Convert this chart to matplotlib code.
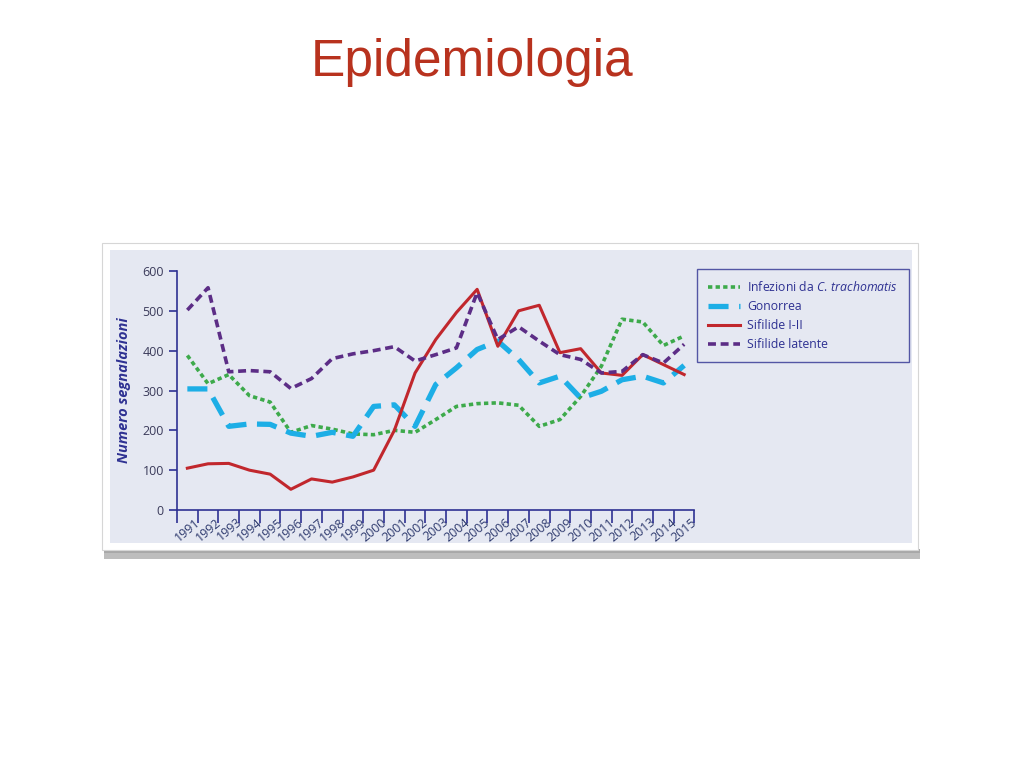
import matplotlib
matplotlib.use("Agg")
import matplotlib.pyplot as plt
from matplotlib.patches import Rectangle
from matplotlib.transforms import ScaledTranslation

plt.rcParams["font.family"] = ["Open Sans", "DejaVu Sans"]
plt.rcParams["mathtext.fontset"] = "custom"
plt.rcParams["mathtext.rm"] = "Open Sans"
plt.rcParams["mathtext.it"] = "Open Sans:italic"

YEARS = list(range(1991, 2016))

CHLAMYDIA = [388, 317, 340, 287, 271, 195, 212, 203, 191, 189, 200, 195, 227,
             260, 267, 269, 263, 210, 227, 285, 361, 479, 472, 413, 437]
GONORRHEA = [304, 304, 210, 216, 215, 193, 185, 195, 185, 260, 264, 210, 315,
             357, 403, 424, 378, 319, 336, 281, 298, 327, 336, 319, 363]
SYPHILIS_1_2 = [105, 116, 117, 100, 90, 52, 78, 70, 83, 100, 200, 344, 428,
                496, 554, 411, 500, 514, 395, 405, 344, 338, 390, 365, 340]
SYPHILIS_LATENT = [502, 558, 347, 350, 347, 305, 330, 380, 392, 400, 410, 374,
                   390, 407, 546, 428, 460, 424, 390, 378, 344, 348, 390, 369, 416]

LABELS = ["Infezioni da $\\it{C.\\,trachomatis}$", "Gonorrea",
          "Sifilide I-II", "Sifilide latente"]

NAVY = "#2E3192"
PANEL = "#E5E8F2"

fig = plt.figure(figsize=(10.24, 7.68), dpi=100)
fig.patch.set_facecolor("white")

fig.text(0.461, 0.918, "Epidemiologia", ha="center", va="center",
         fontsize=37, color="#B8321E", family="Liberation Sans")

# picture frame with a soft shadow
W, H = 1024, 768
def box(x0, y0, x1, y1, **kw):
    r = Rectangle((x0 / W, 1 - y1 / H), (x1 - x0) / W, (y1 - y0) / H,
                  transform=fig.transFigure, zorder=-5, **kw)
    fig.patches.append(r)

box(104, 552, 920, 559, facecolor="#BDBDBD", edgecolor="none")
box(104, 549, 920, 553, facecolor="#A8A8A8", edgecolor="none")
box(102, 243, 918, 550, facecolor="white", edgecolor="#D6D6D6", lw=0.8)
box(110, 250, 912, 543, facecolor=PANEL, edgecolor="none")

ax = fig.add_axes([177 / W, 1 - 510 / H, 517.5 / W, 239 / H])
ax.set_facecolor("none")
ax.set_zorder(2)

ax.plot(YEARS, CHLAMYDIA, color="#3DAA4B", lw=2.6, ls=(0, (1.2, 0.9)),
        label=LABELS[0])
ax.plot(YEARS, GONORRHEA, color="#1DAEE6", lw=3.8, ls=(0, (3.8, 2.0)),
        label=LABELS[1])
ax.plot(YEARS, SYPHILIS_1_2, color="#C1272D", lw=2.2, ls="-",
        label=LABELS[2])
ax.plot(YEARS, SYPHILIS_LATENT, color="#5C2D86", lw=2.6, ls=(0, (2.2, 1.3)),
        label=LABELS[3])

ax.set_xlim(1990.5, 2015.5)
ax.set_ylim(0, 600)
ax.set_yticks(range(0, 601, 100))
for side in ["top", "right"]:
    ax.spines[side].set_visible(False)
for side in ["left", "bottom"]:
    ax.spines[side].set_color(NAVY)
    ax.spines[side].set_linewidth(1.2)

ax.tick_params(axis="y", colors=NAVY, labelcolor="#3A3A5A", labelsize=9,
               length=6, width=1.2)
ax.set_xticks([y - 0.5 for y in YEARS] + [2015.5], minor=True)
ax.set_xticks(YEARS)
ax.set_xticklabels([str(y) for y in YEARS], rotation=40, ha="right", va="top",
                   rotation_mode="anchor", fontsize=9, color="#2E3A6E")
ax.tick_params(axis="x", which="major", length=0, pad=4)
ax.tick_params(axis="x", which="minor", length=9, width=1.2, color=NAVY)
for lab in ax.get_xticklabels():
    lab.set_transform(lab.get_transform() + ScaledTranslation(0.07, 0.0, fig.dpi_scale_trans))

ax.set_ylabel("Numero segnalazioni", fontsize=10.5, fontweight="bold",
              fontstyle="italic", color=NAVY, labelpad=8)

leg = fig.legend(loc="upper left", bbox_to_anchor=(697 / W, 1 - 269 / H),
                 bbox_transform=fig.transFigure, frameon=True, fontsize=8.8,
                 handlelength=2.6, borderpad=0.9, labelspacing=0.5,
                 handletextpad=0.6, borderaxespad=0, fancybox=False)
leg.get_frame().set_edgecolor(NAVY)
leg.get_frame().set_linewidth(1.0)
leg.get_frame().set_facecolor(PANEL)
leg.set_zorder(3)
for t in leg.get_texts():
    t.set_color(NAVY)

fig.savefig("out.png", dpi=100)
